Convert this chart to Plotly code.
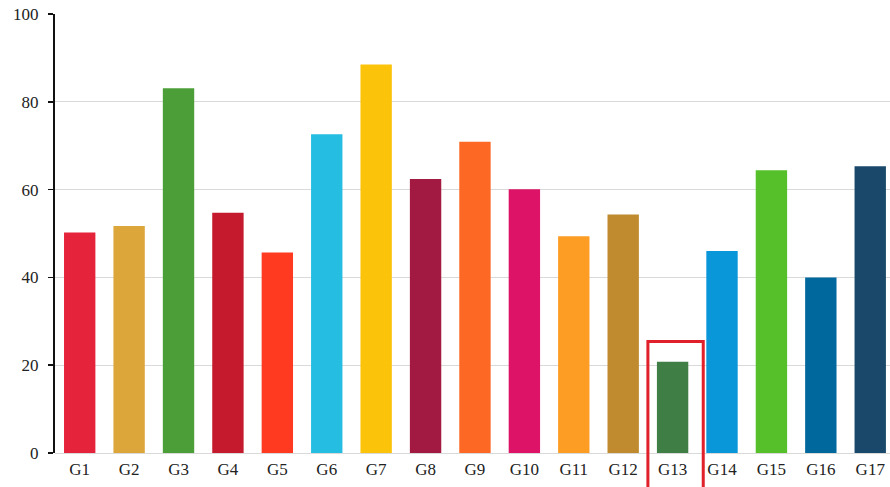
import plotly.graph_objects as go

categories = ["G1", "G2", "G3", "G4", "G5", "G6", "G7", "G8", "G9", "G10",
              "G11", "G12", "G13", "G14", "G15", "G16", "G17"]
values = [50.2, 51.7, 83.1, 54.7, 45.7, 72.6, 88.5, 62.4, 70.9, 60.1,
          49.4, 54.3, 20.8, 46.0, 64.4, 40.0, 65.3]
colors = ["#E5243B", "#DDA63A", "#4C9F38", "#C5192D", "#FF3A21", "#26BDE2",
          "#FCC30B", "#A21942", "#FD6925", "#DD1367", "#FD9D24", "#BF8B2E",
          "#3F7E44", "#0A97D9", "#56C02B", "#00689D", "#19486A"]
y_ticks = [0, 20, 40, 60, 80, 100]
highlight = "G13"

fig = go.Figure(go.Bar(x=categories, y=values, marker=dict(color=colors, line=dict(width=0))))

hi = categories.index(highlight)
fig.add_shape(type="rect", xref="x", yref="paper",
              x0=hi - 0.5, x1=hi + 0.62,
              y0=-0.09, y1=(values[hi] + 4.6) / 100,
              line=dict(color="#E0202A", width=3), fillcolor="rgba(0,0,0,0)")

fig.update_layout(
    width=890, height=487,
    margin=dict(l=55, r=0, t=14, b=34),
    paper_bgcolor="white", plot_bgcolor="white",
    bargap=0.365, showlegend=False,
    font=dict(family="Liberation Serif, Times New Roman, serif", size=17, color="#222"),
)
fig.update_xaxes(range=[-0.5, 16.4], showline=False, ticks="", showgrid=False,
                 tickfont=dict(size=17), ticklabelstandoff=4, fixedrange=True)
fig.update_yaxes(range=[0, 100], tickvals=y_ticks, showgrid=True, gridcolor="#d9d9d9",
                 gridwidth=1, zeroline=True, zerolinecolor="#d9d9d9", zerolinewidth=1,
                 showline=True, linecolor="#111", linewidth=2,
                 ticks="outside", ticklen=5, tickcolor="#111", tickwidth=1.5,
                 tickfont=dict(size=17), ticklabelstandoff=6, fixedrange=True)

fig.write_html("out.html",
               config={"displayModeBar": False, "staticPlot": True},
               post_script="document.body.style.margin='0';document.body.style.overflow='hidden';")
